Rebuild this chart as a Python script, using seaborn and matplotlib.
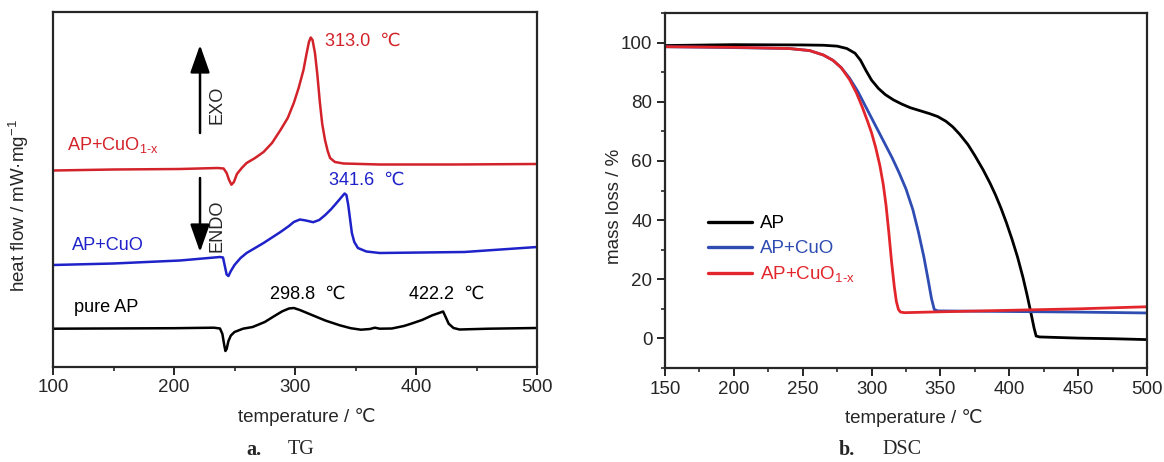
import numpy as np
import pandas as pd
import seaborn as sns
import matplotlib
matplotlib.use("Agg")
import matplotlib.pyplot as plt
from matplotlib import font_manager
from matplotlib.ticker import MultipleLocator, NullLocator

# -------------------------------------------------------------------
# Data
# -------------------------------------------------------------------

# (a) heat flow curves, arbitrary units (stacked)
tg_red_T = [100, 150, 205, 236, 241, 243.5, 245.5, 247.5, 249.5, 252, 256, 260, 267, 274, 281,
            288, 294, 299, 303, 307, 309.5, 311.5, 313, 314.5, 316.5, 318.5, 320.6, 322.5, 324.8,
            327, 329, 333, 340, 370, 430, 500]
tg_red_v = [196.5, 197.5, 198, 199, 198.5, 194, 187, 182.3, 185, 193, 199, 204, 209, 215, 224,
            237, 249, 264, 279, 297, 313, 325, 329.5, 327, 314, 292, 264, 243, 227,
            216, 209, 205, 203.5, 202.5, 202.5, 203]

tg_blue_T = [100, 150, 205, 238, 240.5, 242, 243.5, 245, 247, 250, 255, 260, 267, 274, 288, 295,
             299, 304, 309, 315, 320, 325, 330, 335, 338.5, 341, 342.5, 344, 345.5, 347, 349,
             352, 359, 370, 440, 500]
tg_blue_v = [102, 103.5, 106.5, 110, 109.5, 101, 92.5, 91, 96, 102, 109, 114, 119, 124, 135, 141,
             145, 147.5, 146.5, 144.8, 147, 152, 158, 165, 170, 173.5, 172, 162, 148, 134, 125,
             119, 115.5, 114, 115, 120]

tg_black_T = [100, 200, 233, 238, 240, 241.5, 242.5, 243.5, 245, 247, 250, 257, 265, 275, 283,
              289.5, 295, 299, 304, 310, 316, 325, 337, 346, 354.5, 362, 366, 370, 380, 390,
              396, 405, 413.5, 419, 422.4, 424.5, 427, 431, 436, 460, 499]
tg_black_v = [38.3, 38.8, 39.3, 38.5, 33, 22, 16, 18, 26, 31.5, 35, 38.3, 40, 45, 51,
              55.7, 58.5, 59, 57, 54, 51, 46.5, 41.7, 38.8, 37.3, 38, 39.3, 38.3, 38.5, 41,
              43.3, 47, 51.7, 54, 55.5, 50, 43.3, 39, 37.5, 38.3, 39]

# (b) mass loss curves, %
dsc_ap_T = [150, 200, 250, 265, 275, 282, 288, 292, 296, 300, 305, 310, 316, 322, 328, 335, 342,
            348, 354, 359, 364, 370, 375, 381, 386, 390, 394, 398, 402, 406, 410, 413, 416, 418,
            419.5, 422, 450, 475, 500]
dsc_ap_v = [99.0, 99.3, 99.2, 99.1, 98.8, 98.0, 96.4, 94.0, 90.5, 87.3, 84.5, 82.4, 80.6, 79.2,
            78.0, 77.0, 76.0, 75.0, 73.4, 71.5, 69.0, 65.5, 61.8, 57.0, 52.5, 48.5, 44.0, 39.0,
            33.5, 27.5, 20.5, 14.5, 8.0, 3.5, 0.8, 0.5, 0.1, -0.1, -0.4]

dsc_cuo_T = [150, 200, 240, 255, 265, 272, 278, 284, 290, 295, 300, 305, 310, 315, 320, 325,
             330, 334, 338, 341, 343.5, 345.5, 348, 375, 400, 450, 500]
dsc_cuo_v = [98.6, 98.3, 98.0, 97.3, 95.8, 94.0, 91.5, 88.0, 83.5, 79.0, 74.5, 70.0, 65.5, 61.0,
             56.0, 50.5, 43.5, 36.0, 27.5, 20.0, 13.5, 9.8, 9.3, 9.2, 9.1, 8.9, 8.6]

dsc_cuox_T = [150, 200, 240, 255, 265, 272, 278, 284, 289, 293, 297, 300, 303, 306, 308.5, 310.5,
              312.5, 314.5, 316.5, 318, 319.5, 321, 324, 350, 400, 450, 500]
dsc_cuox_v = [98.6, 98.4, 98.0, 97.3, 95.8, 94.0, 91.5, 87.5, 83.0, 78.5, 73.5, 69.5, 64.5, 58.5,
              52.0, 45.0, 36.0, 26.0, 17.5, 12.5, 9.8, 8.9, 8.7, 9.0, 9.5, 10.0, 10.7]

# -------------------------------------------------------------------
# Style
# -------------------------------------------------------------------

sns.set_style("ticks")
names = {f.name for f in font_manager.fontManager.ttflist}
SANS = "Liberation Sans Narrow" if "Liberation Sans Narrow" in names else "Liberation Sans"
k = 1.0 if SANS == "Liberation Sans Narrow" else 0.9
plt.rcParams["font.family"] = [SANS, "DejaVu Sans"]
plt.rcParams["mathtext.fontset"] = "custom"
plt.rcParams["mathtext.rm"] = SANS
plt.rcParams["axes.linewidth"] = 1.6
plt.rcParams["xtick.major.width"] = 1.4
plt.rcParams["ytick.major.width"] = 1.4
plt.rcParams["xtick.minor.width"] = 1.2
plt.rcParams["ytick.minor.width"] = 1.2

FS_TICK = 15 * k
FS_LAB = 15 * k
FS_ANN = 14.5 * k
FS_LEG = 15 * k

RED_A = "#d3232a"
BLUE_A = "#1e22c8"
BLUE_B = "#2e4cb2"
RED_B = "#e2262c"
LW = 1.8

W, H = 1164, 462
fig = plt.figure(figsize=(W / 100, H / 100), dpi=100)
ax1 = fig.add_axes([53 / W, (H - 367) / H, 484 / W, 355 / H])
ax2 = fig.add_axes([665 / W, (H - 368) / H, 482 / W, 355 / H])

# -------------------------------------------------------------------
# (a) heat flow
# -------------------------------------------------------------------

for T, v, c in [(tg_red_T, tg_red_v, RED_A), (tg_blue_T, tg_blue_v, BLUE_A),
                (tg_black_T, tg_black_v, "black")]:
    sns.lineplot(x=T, y=v, ax=ax1, color=c, lw=LW, sort=False, estimator=None)

ax1.set_xlim(100, 500)
ax1.set_ylim(0, 355)
ax1.xaxis.set_major_locator(MultipleLocator(100))
ax1.xaxis.set_minor_locator(MultipleLocator(50))
ax1.yaxis.set_major_locator(NullLocator())
ax1.tick_params(axis="x", which="major", length=6, direction="out", labelsize=FS_TICK, pad=3)
ax1.tick_params(axis="x", which="minor", length=3, direction="out")
ax1.set_xlabel("temperature / ℃", fontsize=FS_LAB)
ax1.set_ylabel("heat flow / mW·mg$^{\\mathregular{-1}}$", fontsize=FS_LAB)
ax1.xaxis.set_label_coords(0.525, -0.115)
ax1.yaxis.set_label_coords(-0.045, 0.456)

ax1.text(325, 325.7, "313.0  ℃", color=RED_A, fontsize=FS_ANN, va="center", ha="left")
ax1.text(328, 186.7, "341.6  ℃", color=BLUE_A, fontsize=FS_ANN, va="center", ha="left")
ax1.text(279, 73, "298.8  ℃", color="black", fontsize=FS_ANN, va="center", ha="left")
ax1.text(394, 72.7, "422.2  ℃", color="black", fontsize=FS_ANN, va="center", ha="left")
ax1.text(111.8, 221.7, "AP+CuO$_{\\mathregular{1\\text{-}x}}$", color=RED_A, fontsize=FS_ANN,
         va="center", ha="left")
ax1.text(116, 121.7, "AP+CuO", color=BLUE_A, fontsize=FS_ANN, va="center", ha="left")
ax1.text(117, 60, "pure AP", color="black", fontsize=FS_ANN, va="center", ha="left")

arrow = dict(arrowstyle="-|>,head_length=0.85,head_width=0.3", lw=1.8, color="black",
             mutation_scale=20, shrinkA=0, shrinkB=0)
ax1.annotate("", xy=(221.5, 322), xytext=(221.5, 234), arrowprops=arrow)
ax1.annotate("", xy=(221.5, 115), xytext=(221.5, 189), arrowprops=arrow)
ax1.text(235.5, 262, "EXO", rotation=90, fontsize=FS_ANN, va="center", ha="center")
ax1.text(235.5, 141, "ENDO", rotation=90, fontsize=FS_ANN, va="center", ha="center")

# -------------------------------------------------------------------
# (b) mass loss
# -------------------------------------------------------------------

LBL_X = "AP+CuO$_{\\mathregular{1\\text{-}x}}$"
df_b = pd.concat([
    pd.DataFrame({"T": dsc_ap_T, "v": dsc_ap_v, "sample": "AP"}),
    pd.DataFrame({"T": dsc_cuo_T, "v": dsc_cuo_v, "sample": "AP+CuO"}),
    pd.DataFrame({"T": dsc_cuox_T, "v": dsc_cuox_v, "sample": LBL_X}),
], ignore_index=True)
palette = {"AP": "black", "AP+CuO": BLUE_B, LBL_X: RED_B}
sns.lineplot(data=df_b, x="T", y="v", hue="sample", palette=palette, ax=ax2, lw=LW + 0.2,
             sort=False, estimator=None)

ax2.set_xlim(150, 500)
ax2.set_ylim(-10, 110)
ax2.xaxis.set_major_locator(MultipleLocator(50))
ax2.xaxis.set_minor_locator(MultipleLocator(25))
ax2.yaxis.set_minor_locator(MultipleLocator(10))
ax2.set_yticks([0, 20, 40, 60, 80, 100])
ax2.tick_params(which="major", length=6, direction="out", labelsize=FS_TICK, pad=3)
ax2.tick_params(which="minor", length=3, direction="out")
ax2.set_xlabel("temperature / ℃", fontsize=FS_LAB)
ax2.set_ylabel("mass loss / %", fontsize=FS_LAB)
ax2.xaxis.set_label_coords(0.517, -0.115)
ax2.yaxis.set_label_coords(-0.088, 0.456)

leg = ax2.legend(loc="upper left", bbox_to_anchor=(0.09, 0.43), frameon=False,
                 fontsize=FS_LEG, handlelength=2.3, handletextpad=0.45, labelspacing=0.4,
                 borderpad=0, borderaxespad=0)
for line in leg.get_lines():
    line.set_linewidth(2.4)
for txt, c in zip(leg.get_texts(), ["black", BLUE_B, RED_B]):
    txt.set_color(c)

# -------------------------------------------------------------------
# Panel captions
# -------------------------------------------------------------------

yc = 1 - 450 / H
fig.text(246 / W, yc, "a.", family="Liberation Serif", weight="bold", fontsize=14.5, va="center")
fig.text(288 / W, yc, "TG", family="Liberation Serif", fontsize=14.5, va="center")
fig.text(839 / W, yc, "b.", family="Liberation Serif", weight="bold", fontsize=14.5, va="center")
fig.text(882 / W, yc, "DSC", family="Liberation Serif", fontsize=14.5, va="center")

fig.savefig("out.png", dpi=100)
